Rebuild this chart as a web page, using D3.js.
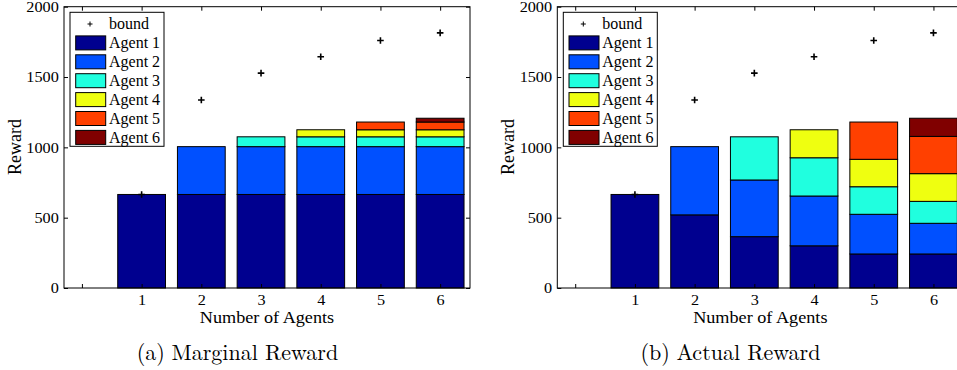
<!DOCTYPE html>
<html><head><meta charset="utf-8">
<script src="https://cdn.jsdelivr.net/npm/d3@7"></script>
<style>
html,body{margin:0;padding:0;background:#fff;}
svg{display:block;}
text{font-family:"Liberation Serif","Times New Roman",serif;fill:#000;}
</style></head>
<body><svg id="c" width="957" height="370"></svg>
<script>
const categories = [1, 2, 3, 4, 5, 6];
const agentNames = ["Agent 1", "Agent 2", "Agent 3", "Agent 4", "Agent 5", "Agent 6"];
const agentColors = ["#00008F", "#0050FF", "#20FFDF", "#EFFF10", "#FF4000", "#800000"];
const bound = [665, 1337, 1528, 1644, 1760, 1814];
const yTicks = [0, 500, 1000, 1500, 2000];
// Marginal reward per agent (index = number of agents - 1)
const marginal1 = [665, 665, 665, 665, 665, 665];
const marginal2 = [0, 340, 340, 340, 340, 340];
const marginal3 = [0, 0, 70, 70, 70, 70];
const marginal4 = [0, 0, 0, 50, 50, 50];
const marginal5 = [0, 0, 0, 0, 55, 55];
const marginal6 = [0, 0, 0, 0, 0, 27];
// Actual reward per agent
const actual1 = [665, 520, 365, 300, 242, 242];
const actual2 = [0, 485, 403, 354, 282, 218];
const actual3 = [0, 0, 307, 272, 196, 156];
const actual4 = [0, 0, 0, 199, 195, 197];
const actual5 = [0, 0, 0, 0, 265, 265];
const actual6 = [0, 0, 0, 0, 0, 129];

const panels = [
  {x0: 64, x1: 470, tag: "(a)", caption: "Marginal Reward", captionX: 237.5,
   series: [marginal1, marginal2, marginal3, marginal4, marginal5, marginal6], ylabX: 15},
  {x0: 557.3, x1: 963.3, tag: "(b)", caption: "Actual Reward", captionX: 730.5,
   series: [actual1, actual2, actual3, actual4, actual5, actual6], ylabX: 508}
];
const yTop = 6.7, yBottom = 288;
const svg = d3.select("#c");

panels.forEach(p => {
  const g = svg.append("g");
  const x = d3.scaleLinear().domain([-0.3, 6.5]).range([p.x0, p.x1]);
  const y = d3.scaleLinear().domain([0, 2000]).range([yBottom, yTop]);
  const table = categories.map((c, i) => {
    const row = {cat: c};
    agentNames.forEach((a, k) => row[a] = p.series[k][i]);
    return row;
  });
  const stacked = d3.stack().keys(agentNames)(table);
  const bw = 0.8;
  stacked.forEach((s, k) => {
    g.append("g").selectAll("rect").data(s.filter(d => d[1] - d[0] > 0)).join("rect")
      .attr("x", d => x(d.data.cat - bw / 2))
      .attr("width", d => x(d.data.cat + bw / 2) - x(d.data.cat - bw / 2))
      .attr("y", d => y(d[1]))
      .attr("height", d => y(d[0]) - y(d[1]))
      .attr("fill", agentColors[k])
      .attr("stroke", "#000").attr("stroke-width", 1);
  });
  // bound markers
  const ms = 3.3;
  g.append("g").selectAll("path").data(categories).join("path")
    .attr("d", (c, i) => {
      const cx = x(c), cy = y(bound[i]);
      return `M${cx - ms},${cy}H${cx + ms}M${cx},${cy - ms}V${cy + ms}`;
    })
    .attr("stroke", "#000").attr("stroke-width", 1.6).attr("fill", "none");

  // axes frame
  g.append("rect").attr("x", p.x0).attr("y", yTop).attr("width", p.x1 - p.x0).attr("height", yBottom - yTop)
    .attr("fill", "none").attr("stroke", "#000").attr("stroke-width", 1);
  const tl = 4;
  const xTickVals = [0].concat(categories);
  const xb = d3.axisBottom(x).tickValues(xTickVals).tickSizeInner(-tl).tickSizeOuter(0)
    .tickFormat(d => d === 0 ? "" : d);
  const xa = g.append("g").attr("transform", `translate(0,${yBottom})`).call(xb);
  xa.select(".domain").remove();
  xa.selectAll("text").attr("dy", 0).attr("y", 16.8).style("font-size", "14px")
    .attr("transform", "scale(1.16,1)");
  const xt = d3.axisTop(x).tickValues(xTickVals).tickSizeInner(-tl).tickSizeOuter(0).tickFormat("");
  g.append("g").attr("transform", `translate(0,${yTop})`).call(xt).select(".domain").remove();
  const yl = d3.axisLeft(y).tickValues(yTicks).tickSizeInner(-tl).tickSizeOuter(0).tickFormat(d3.format("d"));
  const ya = g.append("g").attr("transform", `translate(${p.x0},0)`).call(yl);
  ya.select(".domain").remove();
  ya.selectAll("text").attr("x", -4.5).attr("dy", "0.34em").style("font-size", "14px")
    .attr("transform", "scale(1.16,1)");
  const yr = d3.axisRight(y).tickValues(yTicks).tickSizeInner(-tl).tickSizeOuter(0).tickFormat("");
  g.append("g").attr("transform", `translate(${p.x1},0)`).call(yr).select(".domain").remove();
  g.selectAll(".tick line").attr("stroke", "#000");
  g.selectAll(".tick text").style("font-family", '"Liberation Serif", serif').attr("fill", "#000");

  // labels
  g.append("text").attr("transform", `translate(${(p.x0 + p.x1) / 2},322.8) scale(1.07,1)`).attr("text-anchor", "middle")
    .style("font-size", "17px").text("Number of Agents");
  g.append("text").attr("transform", `translate(${p.ylabX + 6},147) rotate(-90)`).attr("text-anchor", "middle")
    .style("font-size", "18px").text("Reward");
  const cap = g.append("text").attr("x", p.captionX).attr("y", 359.5).attr("text-anchor", "middle")
    .style("font-family", '"Latin Modern Roman", "Liberation Serif", serif').style("font-size", "22px");
  cap.append("tspan").text(p.tag);
  cap.append("tspan").attr("dx", "0.3em").text(p.caption);

  // legend
  const lx = p.x0 + 6, ly = 12.3, lw = 94, lh = 134;
  const lg = g.append("g");
  lg.append("rect").attr("x", lx).attr("y", ly).attr("width", lw).attr("height", lh)
    .attr("fill", "#fff").attr("stroke", "#000").attr("stroke-width", 1);
  const rowY = i => ly + 11.7 + i * 18.9;
  lg.append("path").attr("d", `M${lx + 20 - 2.5},${rowY(0)}H${lx + 20 + 2.5}M${lx + 20},${rowY(0) - 2.5}V${rowY(0) + 2.5}`)
    .attr("stroke", "#000").attr("stroke-width", 1);
  lg.append("text").attr("x", lx + 39).attr("y", rowY(0)).attr("dy", "0.33em").style("font-size", "16px").text("bound");
  agentNames.forEach((a, k) => {
    const cy = rowY(k + 1);
    lg.append("rect").attr("x", lx + 5.7).attr("y", cy - 7).attr("width", 30).attr("height", 14)
      .attr("fill", agentColors[k]).attr("stroke", "#000").attr("stroke-width", 1);
    lg.append("text").attr("x", lx + 39).attr("y", cy).attr("dy", "0.33em").style("font-size", "16px").text(a);
  });
});
</script></body></html>
